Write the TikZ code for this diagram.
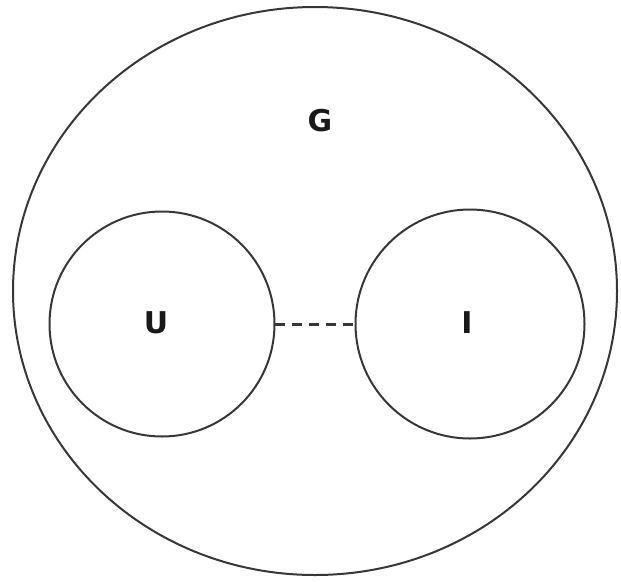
\documentclass[tikz,border=0pt]{standalone}
\usepackage{fontspec}
\setsansfont{DejaVu Sans}
\usetikzlibrary{shapes.geometric}
\definecolor{setline}{RGB}{55,55,55}

\begin{document}
\begin{tikzpicture}[x=1pt,y=-1pt,
  setcirc/.style={circle,draw=setline,line width=2pt,inner sep=0pt,outer sep=0pt},
  setname/.style={font=\sffamily\bfseries\fontsize{30}{30}\selectfont,text=black!90}]
 \useasboundingbox (0,0) rectangle (621,581);
 % outer set
 \node[ellipse,draw=setline,line width=2pt,inner sep=0pt,outer sep=0pt,
   minimum width=604pt,minimum height=568pt] (world) at (315,291) {};
 \node[setname] (G) at (320,121) {G};
 % inner sets
 \node[setcirc,minimum size=225pt] (U) at (162,324) {};
 \node[setcirc,minimum size=229pt] (I) at (470,324) {};
 \node[setname] (Ulab) at (156,323) {U};
 \node[setname] (Ilab) at (467,323) {I};
 \draw[setline,line width=3pt,dash pattern=on 10pt off 7pt] (U) -- (I);
\end{tikzpicture}
\end{document}
